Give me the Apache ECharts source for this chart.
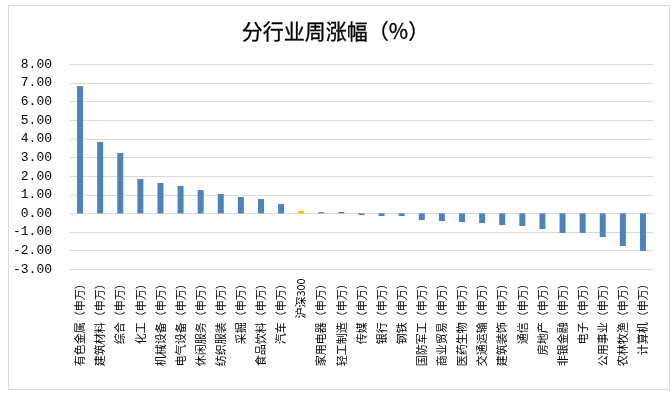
<!DOCTYPE html>
<html>
<head>
<meta charset="utf-8">
<script src="https://cdn.jsdelivr.net/npm/echarts@6/dist/echarts.min.js"></script>
<style>
html,body{margin:0;padding:0;background:#fff;}
#chart{width:671px;height:394px;}
</style>
</head>
<body>
<div id="chart"></div>
<script>
var categories = ['有色金属（申万）','建筑材料（申万）','综合（申万）','化工（申万）','机械设备（申万）','电气设备（申万）','休闲服务（申万）','纺织服装（申万）','采掘（申万）','食品饮料（申万）','汽车（申万）','沪深300','家用电器（申万）','轻工制造（申万）','传媒（申万）','银行（申万）','钢铁（申万）','国防军工（申万）','商业贸易（申万）','医药生物（申万）','交通运输（申万）','建筑装饰（申万）','通信（申万）','房地产（申万）','非银金融（申万）','电子（申万）','公用事业（申万）','农林牧渔（申万）','计算机（申万）'];
var values = [6.83, 3.83, 3.24, 1.84, 1.63, 1.47, 1.25, 1.04, 0.88, 0.77, 0.50, 0.13, 0.07, 0.08, -0.09, -0.14, -0.14, -0.36, -0.41, -0.46, -0.52, -0.63, -0.68, -0.84, -1.05, -1.05, -1.27, -1.75, -2.02];
var highlightCategory = '沪深300';
var yTicks = [-3, 8, 1];

var chart = echarts.init(document.getElementById('chart'));
chart.setOption({
  backgroundColor: '#fff',
  animation: false,
  title: {
    text: '分行业周涨幅（%）',
    left: 'center',
    top: 16,
    textStyle: {fontFamily: 'Noto Sans CJK SC', fontSize: 21, fontWeight: 'normal', color: '#000', textBorderColor: '#000', textBorderWidth: 0.3}
  },
  graphic: [{
    type: 'rect', left: 6, top: 3, silent: true,
    shape: {width: 661, height: 384},
    style: {fill: 'none', stroke: '#d9d9d9', lineWidth: 1}
  }],
  grid: {left: 70, right: 18, top: 64.3, bottom: 124.7, containLabel: false},
  xAxis: {
    type: 'category',
    data: categories,
    axisLine: {show: false, onZero: false},
    axisTick: {show: false},
    axisLabel: {rotate: 90, interval: 0, margin: 9, fontFamily: 'Noto Sans CJK SC', fontSize: 11, color: '#000'}
  },
  yAxis: {
    type: 'value',
    min: yTicks[0], max: yTicks[1], interval: yTicks[2],
    axisLine: {show: false},
    axisTick: {show: false},
    splitLine: {lineStyle: {color: '#d9d9d9', width: 1}},
    axisLabel: {margin: 18, fontFamily: 'Liberation Mono', fontSize: 13, color: '#000',
      formatter: function (v) { return v.toFixed(2); }}
  },
  series: [{
    type: 'bar',
    barWidth: 6,
    data: values.map(function (v, i) {
      return categories[i] === highlightCategory ? {value: v, itemStyle: {color: '#ffc000'}} : v;
    }),
    itemStyle: {color: '#4f81bd'}
  }]
});
</script>
</body>
</html>
